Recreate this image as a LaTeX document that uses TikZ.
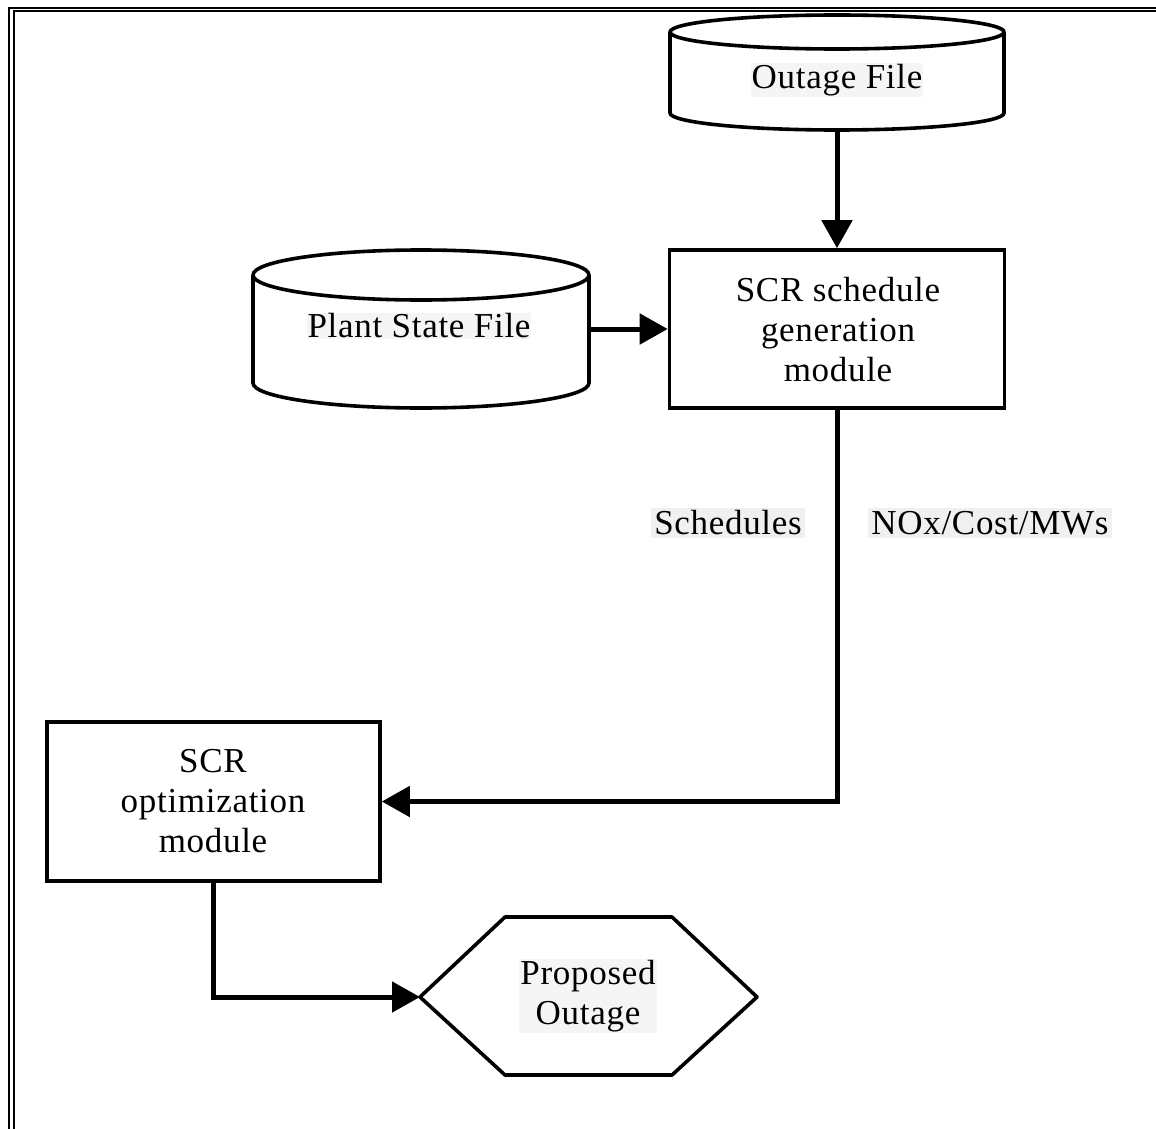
\documentclass[tikz,border=0pt]{standalone}
\usepackage{fontspec}
\setmainfont[LetterSpace=2]{Liberation Serif}
\usetikzlibrary{arrows.meta}
\begin{document}
\begin{tikzpicture}[x=1pt,y=-1pt,
  every node/.style={font=\fontsize{35}{40}\selectfont, align=center},
  outline/.style={line width=3.6pt, line join=round},
  boxnode/.style={draw, line width=3.6pt, inner sep=0pt},
  shapearea/.style={inner sep=0pt, outer sep=0pt},
  flow/.style={line width=5pt, -{Triangle[length=28pt,width=30pt]}},
  hilite/.style={fill=black!4, inner sep=1pt},
  tag/.style={fill=black!6, inner sep=3pt}]
\useasboundingbox (0,0) rectangle (1156,1129);

% double page frame
\draw[line width=2.6pt] (9,1140) -- (9,8) -- (1170,8);
\draw[line width=2pt] (13.7,1140) -- (13.7,11.5) -- (1170,11.5);

% Outage file (cylinder)
\draw[outline] (837,32) ellipse [x radius=167, y radius=17];
\draw[outline] (670,32) -- (670,113) arc[start angle=180, end angle=0, x radius=167, y radius=17] -- (1004,32);
\node[shapearea, minimum width=334pt, minimum height=115pt] (outage) at (837,72.5) {};
\node[hilite] (outagetxt) at (837,80) {Outage File};

% Plant state file (cylinder)
\draw[outline] (421,275) ellipse [x radius=168, y radius=25];
\draw[outline] (253,275) -- (253,383) arc[start angle=180, end angle=0, x radius=168, y radius=25] -- (589,275);
\node[shapearea, minimum width=336pt, minimum height=158pt] (plant) at (421,329) {};
\node[hilite] (planttxt) at (419,326) {Plant State File};

% SCR schedule generation module
\node[boxnode, minimum width=335pt, minimum height=158pt] (gen) at (837,329) {};
\node (gentxt) at (838,330) {SCR schedule\\generation\\module};

% SCR optimization module
\node[boxnode, minimum width=333pt, minimum height=159pt] (opt) at (213.5,801.5) {};
\node (opttxt) at (213,801) {SCR\\optimization\\module};

% Proposed outage (hexagon)
\draw[outline] (420,997) -- (505,917) -- (672,917) -- (757,997) -- (672,1075) -- (505,1075) -- cycle;
\coordinate (hexW) at (420,997);
\node[hilite] (hextxt) at (588,996) {Proposed\\Outage};

% connectors
\draw[flow] (outage.south) -- (gen.north);
\draw[flow] (plant.east) -- (gen.west);
\draw[flow] (gen.south) |- (opt.east);
\draw[flow] (opt.south) |- (hexW);

% data labels beside the output line
\node[tag] (sched) at (728,523) {Schedules};
\node[tag] (nox) at (990,523) {NOx/Cost/MWs};
\end{tikzpicture}
\end{document}
